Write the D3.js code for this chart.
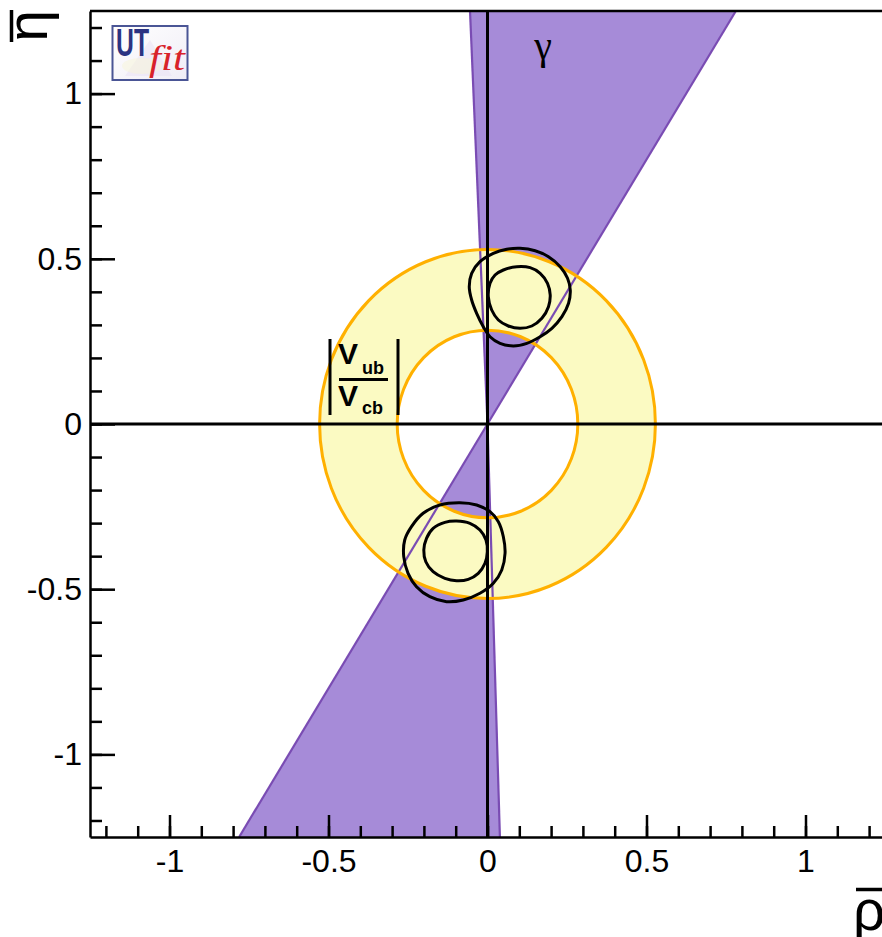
<!DOCTYPE html>
<meta charset="utf-8">
<html>
<head>
<title>UTfit rho-eta</title>
<style>
body { margin: 0; background: #fff; }
svg { display: block; }
.axis path, .axis line { fill: none; stroke: #000; stroke-width: 2.5; }
.axis text { font-family: "Liberation Sans", Arial, sans-serif; font-size: 32px; fill: #000; }
</style>
</head>
<body>
<svg width="882" height="937"></svg>
<script src="https://d3js.org/d3.v7.min.js"></script>
<script>

// axis ranges and tick labels
var rhoDomain = [-1.25, 1.25],
    etaDomain = [-1.25, 1.25],
    majorTicks = [-1, -0.5, 0, 0.5, 1];

// |Vub/Vcb| ring (inner / outer radius)
var ringRadii = [0.284, 0.528];

// gamma wedge, two cones through the origin
var gammaUpper = [[0, 0], [-0.055, 1.25], [0.781, 1.25]],
    gammaLower = [[0, 0], [-0.781, -1.25], [0.039, -1.25]];

// 68% / 95% contours, upper solution
var upperOuter = [[0.0183,0.5166],[0.0605,0.5287],[0.1025,0.5317],[0.1498,0.5245],[0.1918,0.5064],[0.2287,0.4761],
  [0.2517,0.4410],[0.2603,0.4056],[0.2549,0.3653],[0.2341,0.3248],[0.2025,0.2896],[0.1656,0.2642],[0.1237,0.2442],
  [0.0814,0.2361],[0.0394,0.2442],[0.0079,0.2642],[-0.0132,0.2945],[-0.0341,0.3350],[-0.0498,0.3753],
  [-0.0574,0.4156],[-0.0498,0.4561],[-0.0237,0.4912]];
var upperInner = [[0.0499,0.4661],[0.0921,0.4761],[0.1341,0.4731],[0.1656,0.4561],[0.1887,0.4258],[0.1972,0.3904],
  [0.1918,0.3550],[0.1710,0.3199],[0.1394,0.2966],[0.1025,0.2896],[0.0656,0.2966],[0.0341,0.3148],[0.0132,0.3450],
  [0.0025,0.3853],[0.0079,0.4258],[0.0237,0.4510]];

// lower solution
var lowerOuter = [[-0.0868,-0.2382],[-0.0341,-0.2452],[0.0079,-0.2654],[0.0341,-0.2957],[0.0498,-0.3411],
  [0.0552,-0.3913],[0.0448,-0.4419],[0.0183,-0.4821],[-0.0237,-0.5124],[-0.0763,-0.5327],[-0.1287,-0.5378],
  [-0.1814,-0.5227],[-0.2233,-0.4924],[-0.2498,-0.4519],[-0.2634,-0.4016],[-0.2603,-0.3511],[-0.2391,-0.3108],
  [-0.2025,-0.2703],[-0.1498,-0.2452]];
var lowerInner = [[-0.0972,-0.2936],[-0.0552,-0.3005],[-0.0237,-0.3208],[-0.0047,-0.3511],[-0.0006,-0.3865],
  [-0.0079,-0.4216],[-0.0290,-0.4519],[-0.0606,-0.4701],[-0.0972,-0.4743],[-0.1341,-0.4670],[-0.1710,-0.4470],
  [-0.1940,-0.4168],[-0.2003,-0.3814],[-0.1918,-0.3459],[-0.1710,-0.3157],[-0.1341,-0.2976]];

var svg = d3.select("svg");

var x = d3.scaleLinear().domain(rhoDomain).range([90, 885]);
var y = d3.scaleLinear().domain(etaDomain).range([837, 11]);

svg.append("defs").append("clipPath").attr("id", "plot")
  .append("rect")
    .attr("x", x.range()[0]).attr("y", y.range()[1])
    .attr("width", x.range()[1] - x.range()[0])
    .attr("height", y.range()[0] - y.range()[1]);

var g = svg.append("g").attr("clip-path", "url(#plot)");

var poly = d3.line().x(function(d) { return x(d[0]); }).y(function(d) { return y(d[1]); });
var contour = d3.line().x(function(d) { return x(d[0]); }).y(function(d) { return y(d[1]); })
    .curve(d3.curveCatmullRomClosed.alpha(0.5));

// gamma fill
g.selectAll("path.gamma")
  .data([gammaUpper, gammaLower])
  .enter().append("path")
    .attr("class", "gamma")
    .attr("d", function(d) { return poly(d) + "Z"; })
    .attr("fill", "#a68bd8");

// ring fill
function ellipse(r) {
  var cx = x(0), cy = y(0), rx = x(r) - x(0), ry = y(0) - y(r);
  return "M" + (cx + rx) + "," + cy +
    "A" + rx + "," + ry + " 0 1 0 " + (cx - rx) + "," + cy +
    "A" + rx + "," + ry + " 0 1 0 " + (cx + rx) + "," + cy + "Z";
}
g.append("path")
  .attr("d", ellipse(ringRadii[1]) + ellipse(ringRadii[0]))
  .attr("fill", "#fbfac2")
  .attr("fill-rule", "evenodd");

// gamma edges
[gammaUpper, gammaLower].forEach(function(w) {
  g.selectAll(null)
    .data([[w[0], w[1]], [w[0], w[2]]])
    .enter().append("path")
      .attr("d", poly)
      .attr("fill", "none")
      .attr("stroke", "#7a4cb3")
      .attr("stroke-width", 2.2);
});

// ring edges
g.selectAll("path.ring")
  .data(ringRadii)
  .enter().append("path")
    .attr("class", "ring")
    .attr("d", ellipse)
    .attr("fill", "none")
    .attr("stroke", "#ffb000")
    .attr("stroke-width", 3);

// contours
g.selectAll("path.cont")
  .data([upperOuter, upperInner, lowerOuter, lowerInner])
  .enter().append("path")
    .attr("class", "cont")
    .attr("d", contour)
    .attr("fill", "none")
    .attr("stroke", "#000")
    .attr("stroke-width", 3);

// zero lines
g.append("line")
  .attr("x1", x(0)).attr("x2", x(0)).attr("y1", y(etaDomain[1])).attr("y2", y(etaDomain[0]))
  .attr("stroke", "#000").attr("stroke-width", 3);
g.append("line")
  .attr("x1", x(rhoDomain[0])).attr("x2", x(rhoDomain[1])).attr("y1", y(0)).attr("y2", y(0))
  .attr("stroke", "#000").attr("stroke-width", 3);

// frame top
svg.append("line")
  .attr("x1", x.range()[0]).attr("x2", x.range()[1]).attr("y1", y.range()[1]).attr("y2", y.range()[1])
  .attr("stroke", "#000").attr("stroke-width", 2.5);

var fmt = function(d) { return String(d); };

// bottom axis
svg.append("g").attr("class", "axis")
  .attr("transform", "translate(0," + y.range()[0] + ")")
  .call(d3.axisBottom(x).tickValues(x.ticks(25)).tickSizeInner(-11).tickSizeOuter(0).tickFormat(""));
svg.append("g").attr("class", "axis")
  .attr("transform", "translate(0," + y.range()[0] + ")")
  .call(d3.axisBottom(x).tickValues(majorTicks).tickSizeInner(-22).tickSizeOuter(0).tickPadding(12).tickFormat(fmt))
  .select(".domain").remove();

// left axis
svg.append("g").attr("class", "axis")
  .attr("transform", "translate(" + x.range()[0] + ",0)")
  .call(d3.axisLeft(y).tickValues(y.ticks(25)).tickSizeInner(-12).tickSizeOuter(0).tickFormat(""));
svg.append("g").attr("class", "axis")
  .attr("transform", "translate(" + x.range()[0] + ",0)")
  .call(d3.axisLeft(y).tickValues(majorTicks).tickSizeInner(-25).tickSizeOuter(0).tickPadding(8).tickFormat(fmt))
  .select(".domain").remove();

// axis titles
var ttl = svg.append("g").attr("transform", "translate(47,10) rotate(-90)");
ttl.append("text")
  .attr("text-anchor", "end")
  .attr("font-family", "Liberation Sans, Arial, sans-serif")
  .attr("font-size", 57)
  .text("η");
ttl.append("line").attr("x1", -32).attr("x2", 0).attr("y1", -35.5).attr("y2", -35.5)
  .attr("stroke", "#000").attr("stroke-width", 3.5);

svg.append("text")
  .attr("x", 853).attr("y", 930)
  .attr("font-family", "Liberation Sans, Arial, sans-serif")
  .attr("font-size", 57)
  .text("ρ");
svg.append("line").attr("x1", 856).attr("x2", 884).attr("y1", 889.5).attr("y2", 889.5)
  .attr("stroke", "#000").attr("stroke-width", 3.5);

// gamma label
svg.append("text")
  .attr("x", 543).attr("y", 59)
  .attr("text-anchor", "middle")
  .attr("font-family", "Liberation Serif, Times New Roman, serif")
  .attr("font-size", 40)
  .text("γ");

// |Vub/Vcb| label
var vl = svg.append("g").attr("font-family", "Liberation Sans, Arial, sans-serif").attr("font-weight", "bold");
vl.selectAll("line.bar").data([330, 398]).enter().append("line")
  .attr("x1", function(d) { return d; }).attr("x2", function(d) { return d; })
  .attr("y1", 339).attr("y2", 415).attr("stroke", "#000").attr("stroke-width", 3);
vl.append("line").attr("x1", 339).attr("x2", 388).attr("y1", 379.5).attr("y2", 379.5)
  .attr("stroke", "#000").attr("stroke-width", 3);
vl.append("text").attr("x", 338).attr("y", 364).attr("font-size", 30).text("V");
vl.append("text").attr("x", 362).attr("y", 374).attr("font-size", 18).text("ub");
vl.append("text").attr("x", 338).attr("y", 406).attr("font-size", 30).text("V");
vl.append("text").attr("x", 362).attr("y", 414).attr("font-size", 18).text("cb");

// UTfit logo
var grad = svg.select("defs").append("linearGradient").attr("id", "logobg")
  .attr("x1", 0).attr("y1", 0).attr("x2", 1).attr("y2", 1);
grad.append("stop").attr("offset", 0).attr("stop-color", "#ffffff");
grad.append("stop").attr("offset", 1).attr("stop-color", "#f0edf6");
var logo = svg.append("g");
logo.append("rect").attr("x", 112.5).attr("y", 26).attr("width", 75).attr("height", 54)
  .attr("fill", "url(#logobg)").attr("stroke", "#4a5595").attr("stroke-width", 2);
logo.append("path").attr("d", "M125,76 L150,40 L172,76 Z").attr("fill", "#e6def3").attr("opacity", 0.45);
logo.append("ellipse").attr("cx", 142).attr("cy", 66).attr("rx", 20).attr("ry", 8)
  .attr("fill", "#f7f5d8").attr("opacity", 0.5);
logo.append("text").attr("x", 116).attr("y", 56)
  .attr("font-family", "Liberation Sans, Arial, sans-serif").attr("font-weight", "bold")
  .attr("font-size", 38).attr("fill", "#2b3382")
  .attr("textLength", 33).attr("lengthAdjust", "spacingAndGlyphs")
  .text("UT");
logo.append("text").attr("x", 149).attr("y", 70)
  .attr("font-family", "Liberation Serif, Times New Roman, serif").attr("font-style", "italic")
  .attr("font-size", 36).attr("fill", "#d8222a")
  .attr("textLength", 36).attr("lengthAdjust", "spacingAndGlyphs")
  .text("fit");

</script>
</body>
</html>
